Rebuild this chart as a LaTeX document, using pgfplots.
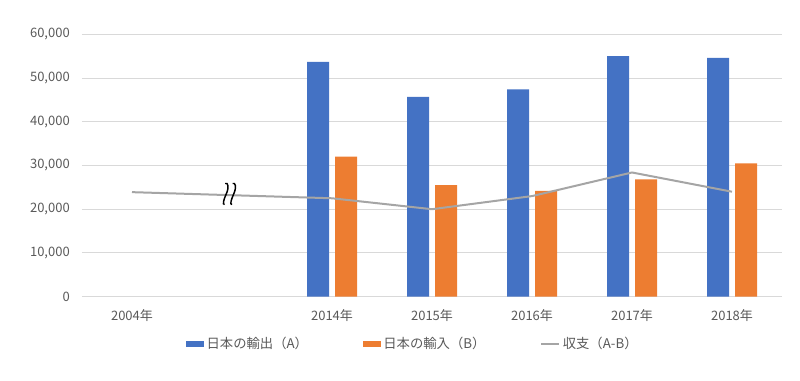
\documentclass[border=0pt]{standalone}
\usepackage{fontspec}
\setmainfont{Noto Sans CJK JP}
\usepackage{pgfplots}
\pgfplotsset{compat=1.18}
\definecolor{cblue}{HTML}{4472C4}
\definecolor{corange}{HTML}{ED7D31}
\definecolor{cgray}{HTML}{A5A5A5}
\definecolor{cgrid}{HTML}{D9D9D9}
\definecolor{ctext}{HTML}{595959}
\begin{document}
\begin{tikzpicture}
\useasboundingbox (0pt,0pt) rectangle (600pt,285pt);
\begin{axis}[
  at={(61.5pt,62.5pt)}, anchor=south west,
  scale only axis, width=525pt, height=196.8pt,
  xmin=-0.5, xmax=6.5, ymin=0, ymax=60000,
  ytick={0,10000,...,60000},
  xtick={0,...,6},
  xticklabels={2004年,,2014年,2015年,2016年,2017年,2018年},
  ymajorgrids, grid style={draw=cgrid, line width=0.75pt},
  axis line style={draw=none},
  major tick length=0pt,
  scaled y ticks=false,
  /pgf/number format/.cd, 1000 sep={,}, assume math mode=true, /pgfplots/.cd,
  tick label style={font=\fontsize{9.75pt}{11pt}\selectfont, text=ctext},
  yticklabel style={anchor=east, inner sep=0pt, xshift=-9pt},
  xticklabel style={anchor=north, inner sep=0pt, yshift=-9.5pt},
  legend columns=3,
  legend style={draw=none, fill=none, at={(axis description cs:0.473,-0.18)}, anchor=center,
    font=\fontsize{10pt}{11pt}\selectfont, text=ctext,
    /tikz/every even column/.append style={column sep=39pt}},
  legend cell align=left,
]
\addplot[ybar, bar width=16.5pt, bar shift=-10.5pt, fill=cblue, draw=none,
  legend image code/.code={\fill[cblue] (0pt,-2.3pt) rectangle (13.5pt,2.3pt);}]
  coordinates {(2,53700) (3,45700) (4,47400) (5,55000) (6,54600)};
\addlegendentry{日本の輸出（A）}
\addplot[ybar, bar width=16.5pt, bar shift=10.5pt, fill=corange, draw=none,
  legend image code/.code={\fill[corange] (0pt,-2.3pt) rectangle (13.5pt,2.3pt);}]
  coordinates {(2,32000) (3,25500) (4,24200) (5,26800) (6,30500)};
\addlegendentry{日本の輸入（B）}
\addplot[color=cgray, line width=1.5pt, mark=none,
  legend image code/.code={\draw[cgray, line width=1.5pt] (0pt,0pt) -- (13.5pt,0pt);}]
  coordinates {(0,23900) (2,22500) (3,20000) (4,23000) (5,28400) (6,24000)};
\addlegendentry{収支（A-B）}
\draw[black, line width=1.1pt, shift={(axis cs:1,23500)}, xshift=-2pt]
  (-3.1pt,7.8pt) .. controls (-1pt,9pt) and (0pt,5pt) .. (-2.3pt,0pt)
     .. controls (-4.3pt,-4.5pt) and (-5.3pt,-8pt) .. (-3.6pt,-8pt)
  (2.5pt,7.8pt) .. controls (4.6pt,9pt) and (5.6pt,5pt) .. (3.3pt,0pt)
     .. controls (1.3pt,-4.5pt) and (0.3pt,-8pt) .. (2pt,-8pt);
\end{axis}
\end{tikzpicture}
\end{document}
